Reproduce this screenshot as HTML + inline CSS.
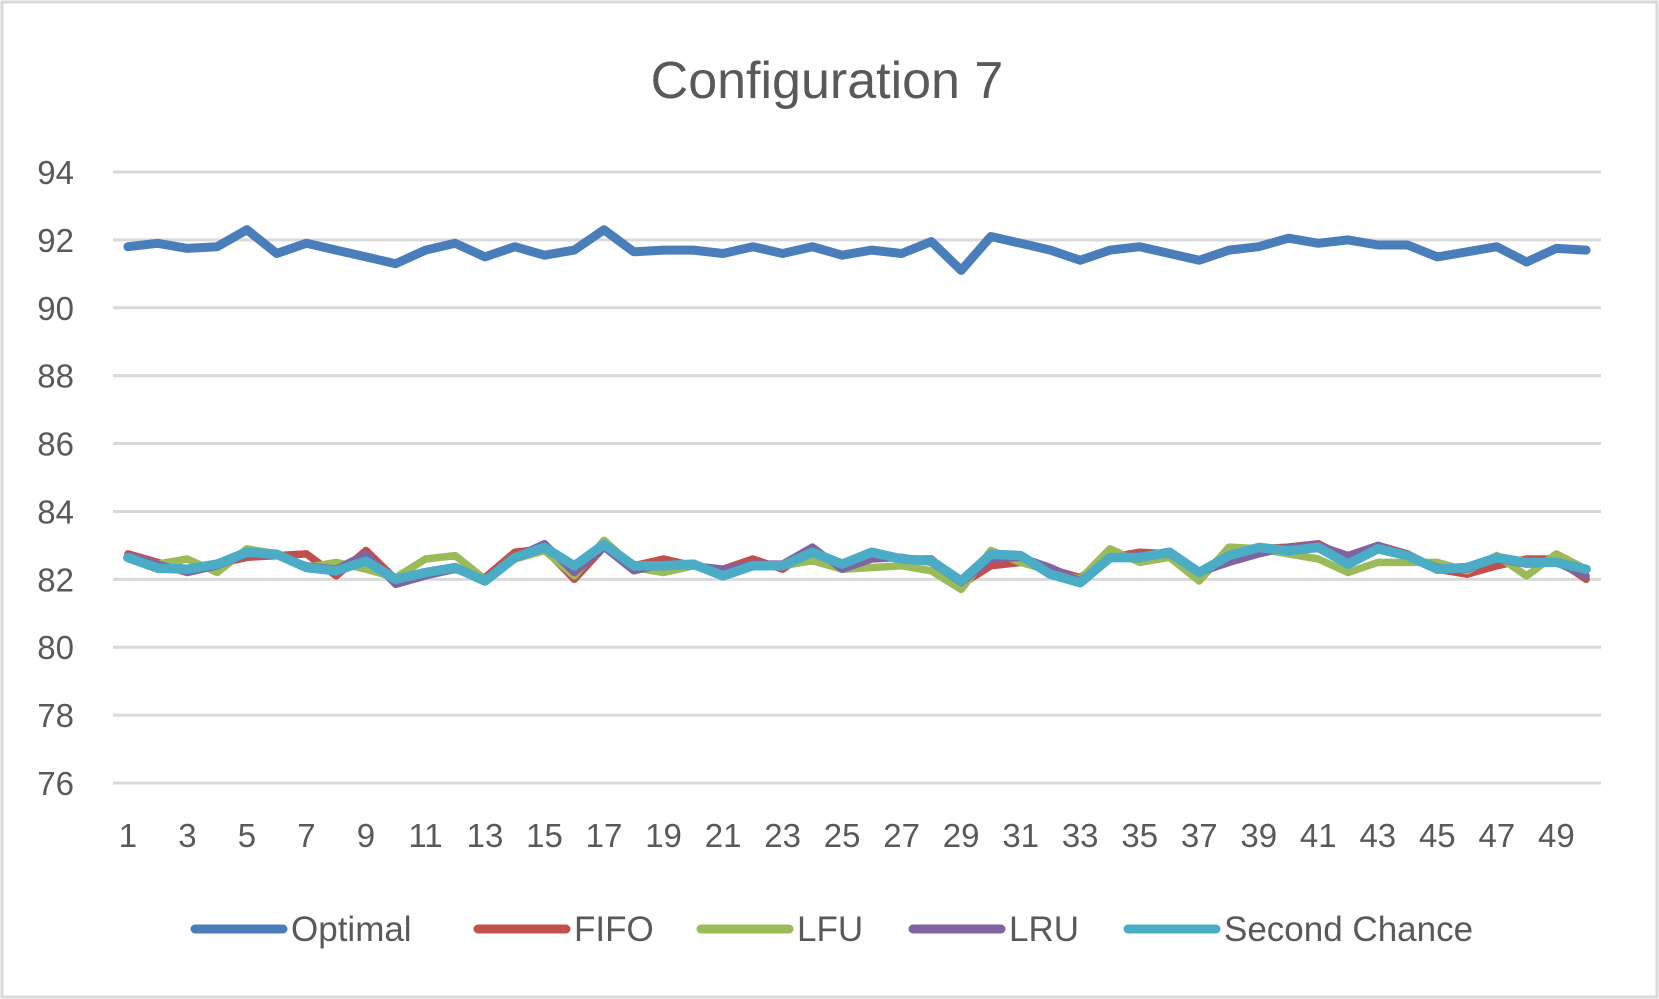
<!DOCTYPE html>
<html><head><meta charset="utf-8"><style>
html,body{margin:0;padding:0;background:#fff;}
svg{display:block;}
text{font-family:"Liberation Sans",sans-serif;fill:#595959;}
</style></head><body>
<svg id="chart" width="1659" height="999" viewBox="0 0 1659 999" xmlns="http://www.w3.org/2000/svg">
<rect x="2" y="2" width="1655" height="995" fill="#fff" stroke="#d9d9d9" stroke-width="3"/>
<text x="827" y="98" font-size="52" text-anchor="middle">Configuration 7</text>
<g id="grid"></g><g id="yticks"></g><g id="xticks"></g><g id="series"></g><g id="legend"></g>
</svg>
<script>
const categories = Array.from({length:50},(_,i)=>i+1);
const yTicks = [76,78,80,82,84,86,88,90,92,94];
const seriesNames = ["Optimal","FIFO","LFU","LRU","Second Chance"];
const seriesColors = ["#4a7ebb","#c0504d","#9bbb59","#8064a2","#4bacc6"];
const optimal = [91.8,91.9,91.75,91.8,92.3,91.6,91.9,91.7,91.5,91.3,91.7,91.9,91.5,91.8,91.55,91.7,92.3,91.65,91.7,91.7,91.6,91.8,91.6,91.8,91.55,91.7,91.6,91.95,91.1,92.1,91.9,91.7,91.4,91.7,91.8,91.6,91.4,91.7,91.8,92.05,91.9,92.0,91.85,91.85,91.5,91.65,91.8,91.35,91.75,91.7];
const fifo = [82.75,82.5,82.3,82.45,82.65,82.7,82.75,82.1,82.85,82.0,82.15,82.35,82.05,82.8,82.9,82.0,82.95,82.4,82.6,82.4,82.3,82.6,82.3,82.9,82.3,82.7,82.6,82.6,81.85,82.4,82.5,82.3,82.05,82.65,82.8,82.75,82.2,82.7,82.9,82.95,83.05,82.6,83.0,82.75,82.3,82.15,82.4,82.6,82.6,82.0];
const lfu = [82.7,82.45,82.6,82.2,82.9,82.75,82.35,82.5,82.3,82.05,82.6,82.7,82.0,82.6,82.85,82.1,83.15,82.35,82.2,82.4,82.15,82.45,82.4,82.55,82.3,82.35,82.4,82.25,81.7,82.85,82.5,82.25,82.0,82.9,82.5,82.65,81.95,82.95,82.9,82.75,82.6,82.2,82.5,82.5,82.5,82.25,82.7,82.1,82.75,82.3];
const lru = [82.7,82.45,82.2,82.4,82.75,82.7,82.4,82.3,82.75,81.85,82.1,82.3,82.0,82.65,83.05,82.2,82.95,82.25,82.45,82.4,82.3,82.45,82.45,82.95,82.3,82.6,82.65,82.5,81.9,82.6,82.65,82.35,81.95,82.65,82.7,82.75,82.2,82.5,82.75,82.95,83.0,82.7,83.0,82.7,82.35,82.3,82.6,82.45,82.5,82.1];
const secondChance = [82.64,82.33,82.3,82.45,82.8,82.74,82.35,82.25,82.54,82.0,82.2,82.35,81.95,82.64,82.94,82.4,83.03,82.4,82.4,82.45,82.1,82.4,82.4,82.8,82.45,82.8,82.6,82.54,81.95,82.74,82.7,82.15,81.9,82.64,82.64,82.8,82.2,82.7,82.94,82.84,82.94,82.45,82.9,82.7,82.3,82.35,82.64,82.5,82.5,82.3];
const allSeries = [optimal,fifo,lfu,lru,secondChance];

const NS="http://www.w3.org/2000/svg";
const plotL=113, plotR=1601, yMin=76, yMax=94, yTop=172, yBot=783;
const step=(plotR-plotL)/categories.length;
function xScale(i){return plotL+step*(i+0.5);}
function yScale(v){return yBot-(v-yMin)/(yMax-yMin)*(yBot-yTop);}
function mk(tag,attrs,parent){const e=document.createElementNS(NS,tag);for(const k in attrs)e.setAttribute(k,attrs[k]);parent.appendChild(e);return e;}

const grid=document.getElementById('grid'), yt=document.getElementById('yticks'), xt=document.getElementById('xticks');
yTicks.forEach(v=>{
  const l=mk('line',{x1:plotL,x2:plotR,y1:yScale(v),y2:yScale(v),stroke:'#d9d9d9','stroke-width':3},grid);
  
  
  const t=mk('text',{x:74,y:yScale(v)+12,'font-size':33,'text-anchor':'end'},yt);
  t.textContent=v;
  
  
});
categories.forEach((c,i)=>{
  if(c%2===0)return;
  const t=mk('text',{x:xScale(i),y:847,'font-size':33,'text-anchor':'middle'},xt);
  t.textContent=c;
  
  
});
const sg=document.getElementById('series');
allSeries.forEach((s,k)=>{
  const pts=s.map((v,i)=>xScale(i).toFixed(1)+','+yScale(v).toFixed(1)).join(' ');
  const p=mk('polyline',{points:pts,fill:'none',stroke:seriesColors[k],'stroke-width':k===0?9:(k===4?9.5:7.5),'stroke-linejoin':'round','stroke-linecap':'round'},sg);
  
  
});
const lg=document.getElementById('legend');
const legX=[191,474,697,909,1124];
seriesNames.forEach((n,k)=>{
  const l=mk('line',{x1:legX[k]+4,x2:legX[k]+92,y1:929,y2:929,stroke:seriesColors[k],'stroke-width':9,'stroke-linecap':'round'},lg);
  
  
  const t=mk('text',{x:legX[k]+100,y:941,'font-size':35},lg);
  t.textContent=n;
  
  
});
</script>
</body></html>
